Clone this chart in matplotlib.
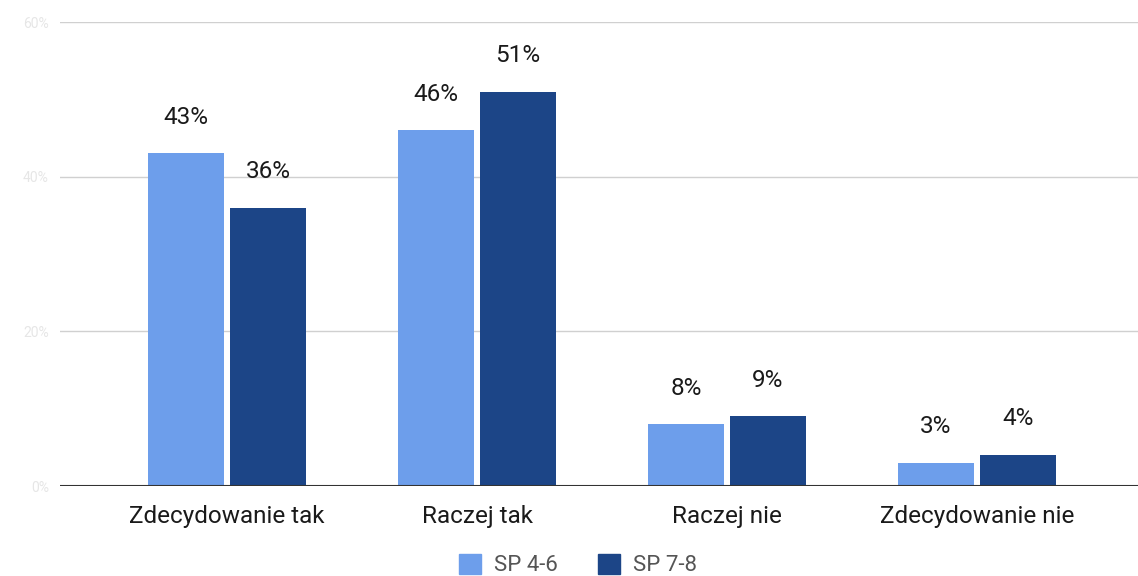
import matplotlib
matplotlib.use("Agg")
import matplotlib.pyplot as plt
import numpy as np
from matplotlib.patches import Patch

categories = ["Zdecydowanie tak", "Raczej tak", "Raczej nie", "Zdecydowanie nie"]
series_names = ["SP 4-6", "SP 7-8"]
sp46 = [43, 46, 8, 3]
sp78 = [36, 51, 9, 4]
yticks = [0, 20, 40, 60]
ytick_labels = ["0%", "20%", "40%", "60%"]

colors = ["#6d9eeb", "#1c4587"]

plt.rcParams['font.family'] = ['Roboto', 'DejaVu Sans']
fig = plt.figure(figsize=(11.38, 5.76), dpi=100)
ax = fig.add_axes([60/1138, 1-486/576, 1-60/1138, (486-22)/576])

x = np.arange(len(categories))
w = 0.304
off = 0.164
for vals, dx, c in [(sp46, -off, colors[0]), (sp78, off, colors[1])]:
    bars = ax.bar(x + dx, vals, width=w, color=c, zorder=3)
    for b, v in zip(bars, vals):
        ax.annotate(f"{v}%", (b.get_x() + b.get_width()/2, v), xytext=(0, 26),
                    textcoords="offset points", ha="center", va="center",
                    fontsize=17.5, color="#1a1a1a", zorder=4)

ax.set_xlim(-0.668, 3.644)
ax.set_ylim(0, 60)
ax.set_yticks(yticks)
ax.set_yticklabels(ytick_labels, color="#e6e6e6", fontsize=10)
ax.yaxis.grid(True, color="#d0d0d0", linewidth=1, zorder=0)
ax.axhline(0, color="#333333", linewidth=1.5, zorder=5)
ax.set_xticks(x)
ax.set_xticklabels(categories, fontsize=17.5, color="#1a1a1a")
ax.tick_params(axis="x", length=0, pad=14)
ax.tick_params(axis="y", length=0, pad=8)
for s in ax.spines.values():
    s.set_visible(False)

handles = [Patch(color=colors[0]), Patch(color=colors[1])]
fig.legend(handles, series_names, loc="center", bbox_to_anchor=(578/1138, 1-565/576),
           ncol=2, frameon=False, fontsize=16, handlelength=1.0, handleheight=1.0,
           handletextpad=0.6, columnspacing=1.8, labelcolor="#555555")

fig.savefig("out.png", dpi=100)
